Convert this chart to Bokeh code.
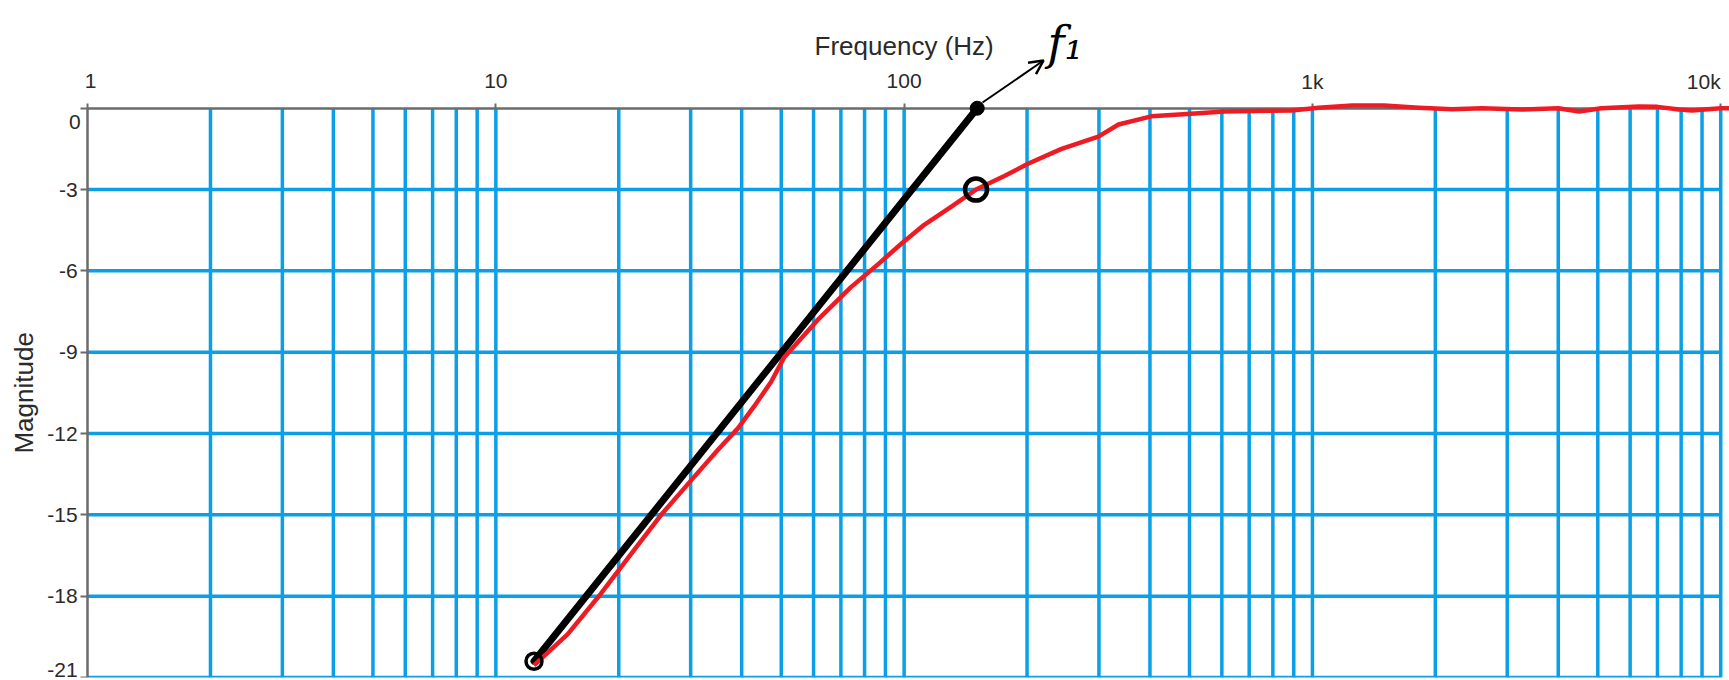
from bokeh.plotting import figure
from bokeh.models import (FixedTicker, Label, Arrow, OpenHead, CustomJSTickFormatter,
                          Range1d)
from bokeh.embed import file_html
from bokeh.resources import INLINE

# Measured magnitude response (Hz, dB)
freq_hz = [12.4, 15.0, 18.1, 21.8, 25.4, 30.6, 35.0, 39.2, 42.9, 47.2, 50.8,
           61.5, 74.1, 86.4, 98.4, 112, 130, 150, 176, 201, 243, 299, 335,
           403, 505, 608, 889, 1035, 1250, 1500, 1820, 2200, 2600, 3250,
           4000, 4500, 5100, 6300, 7000, 7900, 8500, 10000, 10500]
magnitude_db = [-20.55, -19.4, -17.9, -16.3, -15.0, -13.6, -12.6, -11.8, -11.0,
                -10.1, -9.2, -7.8, -6.6, -5.75, -5.0, -4.3, -3.65, -3.0, -2.5,
                -2.05, -1.5, -1.05, -0.6, -0.3, -0.2, -0.12, -0.08, 0.02, 0.1,
                0.1, 0.02, -0.04, 0.0, -0.05, 0.0, -0.12, 0.0, 0.06, 0.05,
                -0.05, -0.08, 0.0, 0.0]

# Hand-drawn 20 dB/decade asymptote and the -3 dB corner f1
asym_hz = [12.4, 151.0]
asym_db = [-20.4, 0.0]
corner_hz = [150.0]
corner_db = [-3.0]

# Axis ticks
x_ticks = [1, 10, 100, 1000, 10000]
x_tick_labels = ["1", "10", "100", "1k", "10k"]
y_ticks = [0, -3, -6, -9, -12, -15, -18, -21]
y_tick_labels = ["0", "-3", "-6", "-9", "-12", "-15", "-18", "-21"]

GRID = "#0a9fe6"
AXIS = "#6b6b6b"
RED = "#ed1c24"
TEXT = "#2a2a2a"
FONT = "Liberation Sans"

# the frame spans the whole canvas; the axes sit at f = 1 Hz and 0 dB
X_MIN, X_MAX = 0.612, 10508
Y_MIN, Y_MAX = -21, 3.9

p = figure(width=1729, height=680, x_axis_type="log",
           x_range=Range1d(X_MIN, X_MAX), y_range=Range1d(Y_MIN, Y_MAX),
           x_axis_location="above",
           output_backend="svg", toolbar_location=None,
           min_border_left=0, min_border_right=0,
           min_border_top=2, min_border_bottom=3)
p.outline_line_color = None
p.background_fill_color = "white"
p.xgrid.visible = False
p.ygrid.visible = False

# grid: every 1-2-...-9 per decade, and every 3 dB
vgrid = [m * 10 ** k for k in range(0, 4) for m in range(2, 10)] + [10, 100, 1000, 10000]
vgrid = sorted(set(vgrid))
p.segment(x0=vgrid, x1=vgrid, y0=[Y_MIN] * len(vgrid), y1=[0] * len(vgrid),
          line_color=GRID, line_width=3.5)
hgrid = y_ticks[1:]
p.segment(x0=[1] * len(hgrid), x1=[10000] * len(hgrid), y0=hgrid, y1=hgrid,
          line_color=GRID, line_width=3.5)

blank = CustomJSTickFormatter(code="return ''")

xa = p.xaxis[0]
xa.fixed_location = 0
xa.bounds = (1, X_MAX)
xa.ticker = FixedTicker(ticks=x_ticks, minor_ticks=[])
xa.formatter = blank
xa.axis_line_color = AXIS
xa.axis_line_width = 2.5
xa.major_tick_line_color = AXIS
xa.major_tick_line_width = 2
xa.major_tick_out = 5
xa.major_tick_in = 0
xa.minor_tick_out = 0
xa.minor_tick_in = 0
xa.major_label_text_font_size = "0px"

ya = p.yaxis[0]
ya.fixed_location = 1
ya.bounds = (Y_MIN, 0)
ya.ticker = FixedTicker(ticks=y_ticks, minor_ticks=[])
ya.formatter = blank
ya.axis_line_color = AXIS
ya.axis_line_width = 2.5
ya.major_tick_line_color = AXIS
ya.major_tick_line_width = 2
ya.major_tick_out = 7
ya.major_tick_in = 0
ya.minor_tick_out = 0
ya.minor_tick_in = 0
ya.major_label_text_font_size = "0px"

# curves
black = p.line(asym_hz, asym_db, line_color="black", line_width=7, line_cap="round")
red = p.line(freq_hz, magnitude_db, line_color=RED, line_width=4.5, line_join="round")
m1 = p.scatter(corner_hz, corner_db, size=22, fill_color=None, line_color="black",
               line_width=4.5)
m2 = p.scatter(asym_hz[:1], asym_db[:1], size=16, fill_color=None,
               line_color="black", line_width=3.5)
m3 = p.scatter(asym_hz[1:], asym_db[1:], size=14, fill_color="black",
               line_color="black")
for r in (black, red, m1, m2, m3):
    r.level = "annotation"

# tick labels
for xv, txt in zip(x_ticks, x_tick_labels):
    last = xv == x_ticks[-1]
    p.add_layout(Label(x=xv, y=0, y_offset=27, x_offset=3 if xv == 1 else 0,
                       text=txt, text_align="right" if last else "center",
                       text_baseline="middle", text_font=FONT,
                       text_font_size="21px", text_color=TEXT))
for yv, txt in zip(y_ticks, y_tick_labels):
    off = -14 if yv == 0 else (8 if yv == Y_MIN else 0)
    p.add_layout(Label(x=1, y=yv, x_offset=-7 if yv == 0 else -10,
                       y_offset=off, text=txt, text_align="right",
                       text_baseline="middle", text_font=FONT,
                       text_font_size="21px", text_color=TEXT))

p.add_layout(Label(x=100, y=0, y_offset=62, text="Frequency (Hz)",
                   text_align="center", text_baseline="middle", text_font=FONT,
                   text_font_size="26px", text_color=TEXT))
p.add_layout(Label(x=1, y=(Y_MIN + 0) / 2, x_offset=-64, text="Magnitude",
                   angle=1.5708, text_align="center", text_baseline="middle",
                   text_font=FONT, text_font_size="26px", text_color=TEXT))

# f1 annotation
p.add_layout(Arrow(x_start=155.6, y_start=0.21, x_end=219.5, y_end=1.76,
                   line_color="black", line_width=2,
                   end=OpenHead(size=14, line_color="black", line_width=2.5)))
p.add_layout(Label(x=248, y=2.42, text="f₁", text_align="center",
                   text_baseline="middle", text_font="DejaVu Serif",
                   text_font_style="italic", text_font_size="46px",
                   text_color="black"))

open("out.html", "w").write(file_html(p, INLINE))
